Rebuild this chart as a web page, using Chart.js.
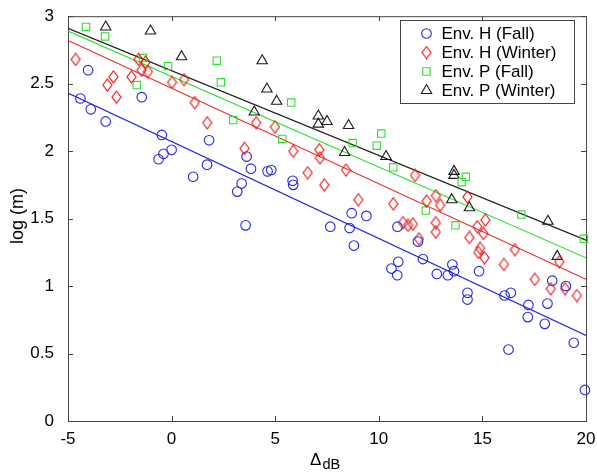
<!DOCTYPE html>
<html>
<head>
<meta charset="utf-8">
<script src="https://cdn.jsdelivr.net/npm/chart.js@4.4.1/dist/chart.umd.min.js"></script>
<style>
    html, body { margin:0; padding:0; background:#fff; }
    #wrap { width:597px; height:474px; }
</style>
</head>
<body>
<div id="wrap"><canvas id="chart" width="597" height="474"></canvas></div>
<script>
// values
const hFallX = [-4.03,-4.40,-3.90,-3.18,-1.44,-0.47,-0.63,-0.39,0.00,1.04,1.81,1.71,3.62,3.83,4.63,4.81,3.38,3.17,5.84,5.87,3.57,8.69,9.40,7.66,8.59,8.80,10.61,10.94,10.89,10.90,11.89,12.13,13.55,13.63,12.80,13.33,14.84,14.28,14.28,16.07,16.37,17.22,18.37,19.03,18.14,17.19,18.01,19.41,16.26,19.95];
const hFallY = [2.60,2.39,2.31,2.22,2.40,2.12,1.94,1.98,2.01,1.81,2.08,1.90,1.96,1.87,1.85,1.86,1.76,1.70,1.78,1.75,1.45,1.54,1.52,1.44,1.43,1.30,1.13,1.18,1.08,1.44,1.33,1.20,1.16,1.11,1.09,1.08,1.11,0.95,0.90,0.93,0.95,0.86,1.04,1.00,0.87,0.77,0.72,0.58,0.53,0.23];

const hWinterX = [-4.63,-2.81,-3.10,-2.66,-1.94,-1.60,-1.45,-1.14,-1.26,0.02,0.60,1.12,1.72,4.08,4.99,3.52,5.87,7.13,7.16,8.42,6.57,7.37,9.01,10.70,11.75,12.76,12.31,12.96,14.28,15.14,11.17,11.41,11.65,12.75,12.75,14.76,15.05,14.37,11.94,14.89,14.80,15.10,16.57,16.04,18.71,17.53,18.30,18.99,19.56];
const hWinterY = [2.68,2.55,2.49,2.40,2.55,2.68,2.60,2.59,2.66,2.51,2.53,2.36,2.21,2.21,2.18,2.02,2.00,2.01,1.95,1.86,1.84,1.75,1.64,1.61,1.82,1.67,1.63,1.60,1.66,1.49,1.47,1.45,1.46,1.47,1.40,1.44,1.39,1.36,1.35,1.28,1.25,1.21,1.27,1.16,1.18,1.05,0.98,0.98,0.93];

const pFallX = [-4.13,-3.21,-1.68,-0.17,-1.38,2.18,2.38,5.77,2.97,5.34,8.74,10.12,9.90,10.70,14.20,14.00,12.27,13.70,16.88,19.90];
const pFallY = [2.92,2.85,2.49,2.63,2.69,2.67,2.51,2.36,2.23,2.09,2.06,2.13,2.04,1.88,1.81,1.77,1.56,1.45,1.53,1.35];

const pWinterX = [-3.18,-1.02,0.48,4.37,4.60,5.07,3.99,7.08,7.50,7.08,8.54,8.35,10.35,13.63,13.63,13.52,14.37,18.16,18.61];
const pWinterY = [2.92,2.89,2.70,2.67,2.46,2.37,2.29,2.26,2.22,2.20,2.19,1.99,1.96,1.85,1.82,1.64,1.58,1.48,1.22];

// fitted lines, end points at x = -5 and x = 20
const fitX = [-5, 20];
const fitHFall = [2.43, 0.634];
const fitHWinter = [2.82, 1.05];
const fitPFall = [2.89, 1.21];
const fitPWinter = [2.91, 1.34];

const xTicks = [-5, 0, 5, 10, 15, 20];
const yTicks = [0, 0.5, 1, 1.5, 2, 2.5, 3];
const seriesLabels = ['Env. H (Fall)', 'Env. H (Winter)', 'Env. P (Fall)', 'Env. P (Winter)'];

const FONT = "'Liberation Sans', Arial, Helvetica, sans-serif";
const colors = { blue:'#2626e6', red:'#ee1c1c', green:'#2fe02f', black:'#1a1a1a' };

function zip(xs, ys) {
    return xs.map((x, i) => ({ x, y:ys[i] }));
}

function makeDiamond(color) {
    const c = document.createElement('canvas');
    c.width = 11;
    c.height = 14;
    const g = c.getContext('2d');
    g.strokeStyle = color;
    g.lineWidth = 1.2;
    g.beginPath();
    g.moveTo(5.5, 1);
    g.lineTo(10, 7);
    g.lineTo(5.5, 13);
    g.lineTo(1, 7);
    g.closePath();
    g.stroke();
    return c;
}

function markerSet(label, xs, ys, color, style, radius) {
    return {
        label, data:zip(xs, ys),
        pointStyle:style, pointRadius:radius, pointHoverRadius:radius,
        borderColor:color, backgroundColor:'rgba(0,0,0,0)', pointBorderWidth:1.1,
        showLine:false, clip:false
    };
}

function fitSet(ys, color) {
    return {
        label:'', data:zip(fitX, ys),
        borderColor:color, borderWidth:1.1, pointRadius:0, showLine:true, fill:false
    };
}

const diamond = makeDiamond(colors.red);
const datasets = [
    markerSet(seriesLabels[0], hFallX, hFallY, colors.blue, 'circle', 4.8),
    markerSet(seriesLabels[1], hWinterX, hWinterY, colors.red, diamond, 5),
    markerSet(seriesLabels[2], pFallX, pFallY, colors.green, 'rect', 5.2),
    markerSet(seriesLabels[3], pWinterX, pWinterY, colors.black, 'triangle', 6),
    fitSet(fitHFall, colors.blue),
    fitSet(fitHWinter, colors.red),
    fitSet(fitPFall, colors.green),
    fitSet(fitPWinter, colors.black)
];

const framePlugin = {
    id:'frame',
    beforeDatasetsDraw(chart) {
        const { ctx, chartArea:a, scales:{ x, y } } = chart;
        ctx.save();
        ctx.strokeStyle = '#444';
        ctx.lineWidth = 1;
        ctx.strokeRect(a.left + 0.5, a.top + 0.5, a.right - a.left, a.bottom - a.top);
        ctx.beginPath();
        xTicks.forEach(v => {
            const px = Math.round(x.getPixelForValue(v)) + 0.5;
            ctx.moveTo(px, a.bottom); ctx.lineTo(px, a.bottom - 5);
            ctx.moveTo(px, a.top); ctx.lineTo(px, a.top + 5);
        });
        yTicks.forEach(v => {
            const py = Math.round(y.getPixelForValue(v)) + 0.5;
            ctx.moveTo(a.left, py); ctx.lineTo(a.left + 5, py);
            ctx.moveTo(a.right, py); ctx.lineTo(a.right - 5, py);
        });
        ctx.stroke();
        ctx.restore();
    },
    afterDraw(chart) {
        const ctx = chart.ctx;
        ctx.save();

        // legend box
        ctx.fillStyle = '#fff';
        ctx.strokeStyle = '#444';
        ctx.lineWidth = 1;
        ctx.fillRect(400.5, 20.5, 174, 83);
        ctx.strokeRect(400.5, 20.5, 174, 83);

        const rows = [33.5, 52.5, 71.5, 90.5];
        chart.data.datasets.slice(0, 4).forEach((ds, i) => {
            ctx.strokeStyle = ds.borderColor;
            ctx.fillStyle = 'rgba(0,0,0,0)';
            ctx.lineWidth = 1.1;
            Chart.helpers.drawPoint(ctx, {
                pointStyle:ds.pointStyle, radius:ds.pointRadius, rotation:0, borderWidth:1.1
            }, 426.5, rows[i]);
            ctx.fillStyle = '#000';
            ctx.font = `17px ${FONT}`;
            ctx.textAlign = 'left';
            ctx.textBaseline = 'middle';
            ctx.fillText(ds.label, 441.5, rows[i] + 1);
        });

        // axis titles
        ctx.fillStyle = '#000';
        ctx.textAlign = 'left';
        ctx.textBaseline = 'alphabetic';
        ctx.font = `17px ${FONT}`;
        ctx.fillText('Δ', 310, 465);
        ctx.font = `14.5px ${FONT}`;
        ctx.fillText('dB', 322.5, 468.5);

        ctx.translate(18, 216);
        ctx.rotate(-Math.PI / 2);
        ctx.font = `18px ${FONT}`;
        ctx.textAlign = 'center';
        ctx.textBaseline = 'middle';
        ctx.fillText('log (m)', 0, 0);
        ctx.restore();
    }
};

new Chart(document.getElementById('chart'), {
    type:'scatter',
    data:{ datasets },
    options:{
        responsive:false,
        animation:false,
        layout:{ padding:{ left:0, right:11, top:12, bottom:0 } },
        plugins:{ legend:{ display:false }, tooltip:{ enabled:false } },
        scales:{
            x:{
                type:'linear', min:-5, max:20,
                afterBuildTicks(scale) { scale.ticks = xTicks.map(v => ({ value:v })); },
                afterFit(scale) { scale.height = 53; },
                ticks:{ font:{ family:FONT, size:17 }, color:'#000', padding:0, callback:v => String(v) },
                grid:{ display:false }, border:{ display:false }
            },
            y:{
                type:'linear', min:0, max:3,
                afterBuildTicks(scale) { scale.ticks = yTicks.map(v => ({ value:v })); },
                afterFit(scale) { scale.width = 68; },
                ticks:{ font:{ family:FONT, size:17 }, color:'#000', padding:6, callback:v => String(v) },
                grid:{ display:false }, border:{ display:false }
            }
        }
    },
    plugins:[framePlugin]
});
</script>
</body>
</html>
